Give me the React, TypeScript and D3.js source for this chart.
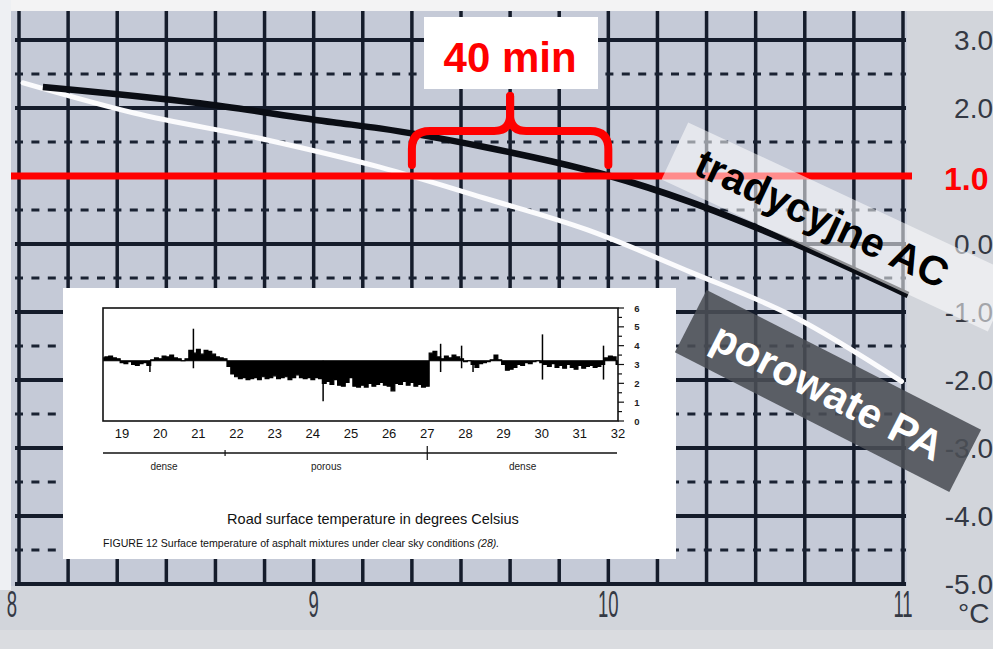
import React from "react";
import * as d3 from "d3";

const W = 993;
const H = 649;

// main chart axes
const hourTicks = [8, 9, 10, 11];
const tempTicks = [3, 2, 1, 0, -1, -2, -3, -4, -5];
const halfTicks = [2.5, 1.5, 0.5, -0.5, -1.5, -2.5, -3.5, -4.5];
const minuteStep = 10;

// series: traditional AC (black) and porous PA (white), hour -> °C
const acTimes = [8.081, 8.614, 9.066, 9.225, 9.575, 9.927, 10.005, 10.277, 10.63, 11.017];
const acValues = [2.31, 2.07, 1.79, 1.7, 1.43, 1.09, 1.0, 0.62, 0.01, -0.75];
const paTimes = [8.014, 8.387, 8.842, 9.225, 9.575, 9.927, 10.277, 10.63, 10.995];
const paValues = [2.37, 1.93, 1.53, 1.13, 0.68, 0.21, -0.41, -1.07, -2.02];

const thresholdValue = 1.0;
const windowStart = 9 + 20 / 60;
const windowEnd = 10;

// inset chart
const insetXTicks = [19, 20, 21, 22, 23, 24, 25, 26, 27, 28, 29, 30, 31, 32];
const insetYTicks = [0, 1, 2, 3, 4, 5, 6];
const insetStart = 18.5;
const insetStep = 0.1;
const insetBaseline = 3.2;
const insetValues = [
  3.35, 3.4, 3.45, 3.35, 3.3, 3.1, 3.05, 3.15, 3.0, 2.95, 3.05, 3.1, 2.95, 3.25, 3.35, 3.3, 3.45, 3.4, 3.5, 3.35,
  3.3, 3.2, 3.3, 3.75, 3.6, 3.8, 3.55, 3.75, 3.7, 3.55, 3.4, 3.35, 3.3,
  2.9, 2.5, 2.35, 2.25, 2.3, 2.2, 2.25, 2.3, 2.2, 2.35, 2.25, 2.3, 2.4, 2.25, 2.3, 2.35, 2.2, 2.3, 2.45, 2.3,
  2.25, 2.3, 2.2, 2.3, 2.25, 2.0, 2.1, 1.95, 2.2, 1.9, 1.85, 2.05, 2.3, 1.85, 1.8, 1.9, 1.8, 2.0, 1.85, 1.95,
  2.05, 1.9, 1.85, 1.6, 2.0, 1.95, 2.1, 1.9, 2.05, 1.85, 1.95, 1.8, 1.85,
  3.6, 3.7, 3.4, 3.3, 3.45, 3.35, 3.5, 3.4, 3.3, 3.15, 3.2, 3.0, 2.85, 3.05, 3.1, 3.15, 3.25, 3.5, 3.25, 3.0,
  2.7, 2.75, 2.85, 3.0, 2.95, 3.1, 3.05, 3.15, 3.2, 3.1, 3.0, 2.9, 3.05, 2.85, 2.95, 2.8, 3.0, 2.85, 2.75, 2.95,
  2.8, 2.9, 2.95, 2.85, 2.9, 3.0, 3.35, 3.45, 3.4, 3.0,
];
const spikeTimes = [19.73, 20.87, 24.27, 27.35, 27.9, 28.2, 30.02, 31.62];
const spikeHigh = [3.2, 4.9, 3.2, 4.1, 4.0, 3.2, 4.6, 4.0];
const spikeLow = [2.6, 2.8, 1.05, 2.6, 2.8, 2.6, 2.2, 2.2];
const sectionLabels = ["dense", "porous", "dense"];
const sectionBounds = [18.5, 21.7, 27, 32];

const FONT = "'Liberation Sans', Arial, Helvetica, sans-serif";

export default function App() {
  const x = d3.scaleLinear().domain([8, 11]).range([19, 903]);
  const y = d3.scaleLinear().domain([-5, 3]).range([584, 40]);

  const minuteTicks = d3.range(8 * 60, 11 * 60 + 1, minuteStep).map((m) => m / 60);

  const line = d3
    .line<[number, number]>()
    .x((d) => x(d[0]))
    .y((d) => y(d[1]))
    .curve(d3.curveMonotoneX);
  const acPath = line(acTimes.map((t, i) => [t, acValues[i]]) as [number, number][]) || "";
  const paPath = line(paTimes.map((t, i) => [t, paValues[i]]) as [number, number][]) || "";

  const yThr = y(thresholdValue);
  const xl = x(windowStart);
  const xr = x(windowEnd);
  const xm = (xl + xr) / 2;
  const yb = 165;
  const yh = 131;
  const yp = 96;
  const braceL = `M${xl},${yb} L${xl},${yh + 18} Q${xl},${yh} ${xl + 18},${yh} L${xm - 16},${yh} Q${xm},${yh} ${xm},${yh - 16} L${xm},${yp}`;
  const braceR = `M${xm},${yp} L${xm},${yh - 16} Q${xm},${yh} ${xm + 16},${yh} L${xr - 18},${yh} Q${xr},${yh} ${xr},${yh + 18} L${xr},${yb}`;

  // inset scales
  const ix = d3.scaleLinear().domain([18.5, 32]).range([103, 618]);
  const iy = d3.scaleLinear().domain([0, 6]).range([421, 308]);
  const insetData = insetValues.map((v, i) => [insetStart + i * insetStep, v] as [number, number]);
  const area = d3
    .area<[number, number]>()
    .x((d) => ix(d[0]))
    .y0(iy(insetBaseline))
    .y1((d) => iy(d[1]))
    .curve(d3.curveStep);
  const iline = d3
    .line<[number, number]>()
    .x((d) => ix(d[0]))
    .y((d) => iy(d[1]))
    .curve(d3.curveStep);
  const insetHalf = d3.range(0, 6.01, 0.5);

  const labelColor = "#343944";

  return (
    <svg width={W} height={H} style={{ position: "absolute", left: 0, top: 0, background: "#d2d5db" }}>
      {/* backgrounds */}
      <rect x={0} y={0} width={W} height={H} fill="#d2d5db" />
      <rect x={0} y={0} width={W} height={11} fill="#f3f3f4" />
      <rect x={0} y={0} width={11} height={590} fill="#eef0f3" />
      <rect x={11} y={11} width={896} height={575} fill="#c5cad7" />
      <rect x={0} y={630} width={W} height={19} fill="#dadce0" />

      {/* vertical grid */}
      {minuteTicks.map((t, i) => (
        <line key={"v" + i} x1={x(t)} x2={x(t)} y1={11} y2={586} stroke="#151c2b" strokeWidth={3.5} />
      ))}
      {/* horizontal solid grid */}
      {tempTicks.map((v) => (
        <line key={"h" + v} x1={15} x2={906} y1={y(v)} y2={y(v)} stroke="#151c2b" strokeWidth={4} />
      ))}
      {/* dashed half lines */}
      {halfTicks.map((v) => (
        <line
          key={"d" + v}
          x1={15}
          x2={906}
          y1={y(v)}
          y2={y(v)}
          stroke="#1a2232"
          strokeWidth={3}
          strokeDasharray="8 8.4"
        />
      ))}

      {/* series */}
      <path d={paPath} fill="none" stroke="#fbfbfd" strokeWidth={5} strokeLinecap="round" />
      <path d={acPath} fill="none" stroke="#0a0d14" strokeWidth={6.5} strokeLinecap="butt" />

      {/* threshold line */}
      <line x1={11} x2={912} y1={yThr} y2={yThr} stroke="#ff0000" strokeWidth={7} />

      {/* brace */}
      <path d={braceL} fill="none" stroke="#ff0000" strokeWidth={8} strokeLinecap="round" strokeLinejoin="round" />
      <path d={braceR} fill="none" stroke="#ff0000" strokeWidth={8} strokeLinecap="round" strokeLinejoin="round" />

      {/* 40 min label */}
      <rect x={424} y={17} width={174} height={72} fill="#ffffff" />
      <text x={xm} y={72} textAnchor="middle" fill="#ff0000" fontFamily={FONT} fontWeight="bold" fontSize={42}>
        40 min
      </text>

      {/* right axis labels */}
      {tempTicks
        .filter((v) => v !== thresholdValue)
        .map((v) => (
          <text
            key={"yl" + v}
            x={993}
            y={y(v) + 10}
            textAnchor="end"
            fill={labelColor}
            fontFamily={FONT}
            fontSize={28}
          >
            {v.toFixed(1)}
          </text>
        ))}
      <text x={944} y={190} fill="#ff0000" fontFamily={FONT} fontWeight="bold" fontSize={32}>
        {thresholdValue.toFixed(1)}
      </text>
      <text x={958} y={623} fill={labelColor} fontFamily={FONT} fontSize={28}>
        °C
      </text>

      {/* bottom axis labels */}
      {hourTicks.map((h) => (
        <text
          key={"xl" + h}
          transform={`translate(${h === 8 ? 12 : x(h)},617) scale(0.5,1)`}
          textAnchor="middle"
          fill={labelColor}
          fontFamily={FONT}
          fontSize={37}
        >
          {h}
        </text>
      ))}

      {/* inset */}
      <rect x={63} y={288} width={613} height={271} fill="#ffffff" />
      <path d={area(insetData) || ""} fill="#000" />
      <path d={iline(insetData) || ""} fill="none" stroke="#000" strokeWidth={1.2} />
      <line x1={ix(18.5)} x2={ix(32)} y1={iy(insetBaseline)} y2={iy(insetBaseline)} stroke="#000" strokeWidth={1.2} />
      {spikeTimes.map((t, i) => (
        <line key={"sp" + i} x1={ix(t)} x2={ix(t)} y1={iy(spikeHigh[i])} y2={iy(spikeLow[i])} stroke="#000" strokeWidth={1.5} />
      ))}
      <rect x={103} y={308} width={515} height={113} fill="none" stroke="#111" strokeWidth={1.6} />
      {insetHalf.map((v) => (
        <line
          key={"it" + v}
          x1={618}
          x2={Number.isInteger(v) ? 624 : 622}
          y1={iy(v)}
          y2={iy(v)}
          stroke="#111"
          strokeWidth={1.2}
        />
      ))}
      {insetYTicks.map((v) => (
        <text key={"iyl" + v} x={637} y={iy(v) + 3.5} textAnchor="middle" fontFamily={FONT} fontSize={9.5} fontWeight="bold" fill="#222">
          {v}
        </text>
      ))}
      {insetXTicks.map((v) => (
        <text key={"ixl" + v} x={ix(v)} y={438} textAnchor="middle" fontFamily={FONT} fontSize={13} fill="#111">
          {v}
        </text>
      ))}
      <line x1={103} x2={617} y1={453} y2={453} stroke="#111" strokeWidth={1.5} />
      {sectionBounds.slice(1, 3).map((b, i) => (
        <line key={"sb" + i} x1={ix(b)} x2={ix(b)} y1={i === 0 ? 450 : 446} y2={i === 0 ? 456 : 460} stroke="#111" strokeWidth={1.2} />
      ))}
      {sectionLabels.map((s, i) => (
        <text
          key={"sl" + i}
          x={ix((sectionBounds[i] + sectionBounds[i + 1]) / 2)}
          y={470}
          textAnchor="middle"
          fontFamily={FONT}
          fontSize={10}
          fill="#222"
        >
          {s}
        </text>
      ))}
      <text x={373} y={524} textAnchor="middle" fontFamily={FONT} fontSize={14.5} fill="#111">
        Road surface temperature in degrees Celsius
      </text>
      <text x={103} y={547} fontFamily={FONT} fontSize={10.6} fill="#111">
        FIGURE 12 Surface temperature of asphalt mixtures under clear sky conditions{" "}
        <tspan fontStyle="italic">(28).</tspan>
      </text>

      {/* label boxes */}
      <g transform="translate(838,227) rotate(25)">
        <rect x={-180} y={-31.5} width={360} height={63} fill="#ffffff" opacity={0.55} />
        <text x={-18} y={13} textAnchor="middle" fontFamily={FONT} fontWeight="bold" fontSize={41} fill="#000">
          tradycyjne AC
        </text>
      </g>
      <g transform="translate(828,391) rotate(27)">
        <rect x={-154} y={-35} width={308} height={70} fill="#4b4f55" opacity={0.88} />
        <text x={0} y={15} textAnchor="middle" fontFamily={FONT} fontWeight="bold" fontSize={42} fill="#ffffff">
          porowate PA
        </text>
      </g>
    </svg>
  );
}
